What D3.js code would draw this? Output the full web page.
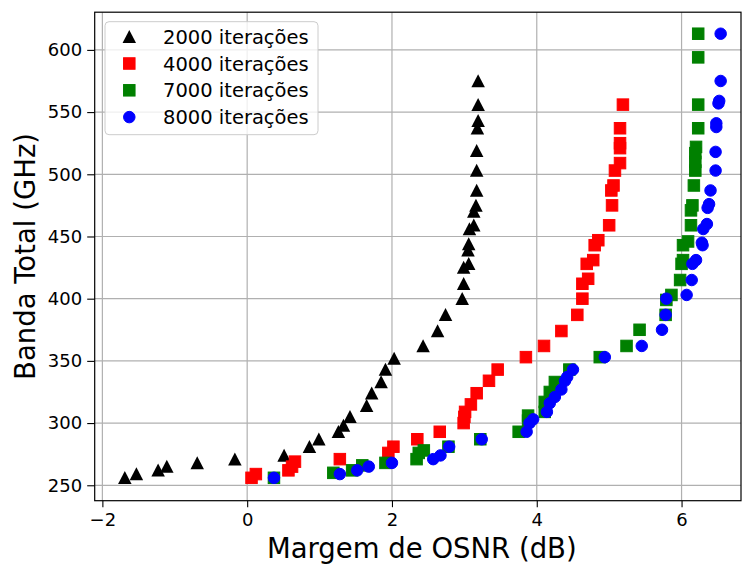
<!DOCTYPE html>
<html>
<head>
<meta charset="utf-8">
<script src="https://cdn.jsdelivr.net/npm/d3@7"></script>
<style>
  body { margin: 0; background: #fff; }
  svg { display: block; font-family: "DejaVu Sans", sans-serif; }
</style>
</head>
<body>
<svg id="chart" width="742" height="568"></svg>
<script>
// data: [margem OSNR (dB), banda total (GHz)]
const it2000 = [
  [-1.69,256],[-1.53,259],[-1.23,262],[-1.11,265],[-0.69,268],[-0.17,271],[0.51,274],
  [0.86,281],[0.99,287],[1.26,293],[1.33,298],[1.42,305],[1.65,314],[1.72,324],
  [1.85,333],[1.91,343],[2.03,352],[2.43,362],[2.63,374],[2.74,387],[2.97,400],
  [2.99,412],[2.99,425],[3.06,428],[3.05,439],[3.06,444],[3.07,456],[3.13,459],
  [3.13,470],[3.16,475],[3.17,487],[3.17,503],[3.17,519],[3.18,537],[3.19,543],
  [3.19,556],[3.19,575]
];
const it4000 = [
  [0.06,256],[0.12,259],[0.57,262],[0.62,265],[0.66,269],[1.28,271],[1.95,276],
  [2.02,281],[2.35,287],[2.66,293],[2.99,300],[3.00,305],[3.01,309],[3.09,315],
  [3.17,324],[3.34,334],[3.46,343],[3.85,353],[4.10,362],[4.34,374],[4.56,387],
  [4.63,400],[4.63,412],[4.71,416],[4.69,428],[4.78,431],[4.80,443],[4.85,447],
  [5.00,459],[5.04,475],[5.03,487],[5.06,491],[5.08,503],[5.15,509],[5.15,521],
  [5.15,525],[5.15,537],[5.19,556]
];
const it7000 = [
  [0.37,256],[1.19,260],[1.45,262],[1.59,266],[1.91,268],[2.34,271],[2.37,276],
  [2.44,278],[2.78,281],[3.22,287],[3.75,293],[3.88,302],[3.88,306],[4.11,309],
  [4.11,317],[4.18,325],[4.25,333],[4.45,343],[4.87,353],[5.24,362],[5.42,375],
  [5.78,387],[5.79,399],[5.86,403],[5.98,415],[6.00,428],[6.02,431],[6.02,443],
  [6.09,446],[6.13,459],[6.13,471],[6.15,475],[6.17,491],[6.19,503],[6.19,510],
  [6.19,517],[6.20,522],[6.23,537],[6.23,556],[6.23,594],[6.23,613]
];
const it8000 = [
  [0.37,256],[1.28,259],[1.52,262],[1.68,265],[2.00,268],[2.57,271],[2.67,274],
  [2.79,281],[3.24,287],[3.86,293],[3.90,300],[3.95,303],[4.14,309],[4.18,316],
  [4.25,321],[4.34,327],[4.39,334],[4.42,337],[4.50,343],[4.94,353],[5.45,362],
  [5.73,375],[5.78,387],[5.79,400],[6.07,403],[6.14,415],[6.15,428],[6.20,431],
  [6.29,443],[6.28,445],[6.30,456],[6.35,460],[6.36,473],[6.38,476],[6.40,487],
  [6.47,503],[6.47,518],[6.48,538],[6.48,541],[6.51,557],[6.52,559],[6.54,575],
  [6.54,613]
];
const labels = ['2000 iterações', '4000 iterações', '7000 iterações', '8000 iterações'];
const colors = ['#000000', '#ff0000', '#008000', '#0000ff'];
const shapes = ['tri', 'sq', 'sq', 'circ'];
const xTicks = [-2, 0, 2, 4, 6];
const yTicks = [250, 300, 350, 400, 450, 500, 550, 600];

const series = [it2000, it4000, it7000, it8000];

const svg = d3.select('#chart');
const plot = {left: 94.7, right: 741, top: 12.2, bottom: 500.7};

const x = d3.scaleLinear().domain([-2.106, 6.821]).range([plot.left, plot.right]);
const y = d3.scaleLinear().domain([237.6, 630.3]).range([plot.bottom, plot.top]);

// grid
svg.append('g').selectAll('line').data(xTicks).join('line')
  .attr('x1', d => x(d)).attr('x2', d => x(d))
  .attr('y1', plot.top).attr('y2', plot.bottom)
  .attr('stroke', '#b0b0b0').attr('stroke-width', 1.2);
svg.append('g').selectAll('line').data(yTicks).join('line')
  .attr('x1', plot.left).attr('x2', plot.right)
  .attr('y1', d => y(d)).attr('y2', d => y(d))
  .attr('stroke', '#b0b0b0').attr('stroke-width', 1.2);

// markers
function drawMarker(g, shape, color, size) {
  const h = size / 2;
  if (shape === 'tri') {
    g.append('path').attr('d', `M0,${-h - 1}L${h + 1},${h + 0.5}L${-h - 1},${h + 0.5}Z`)
      .attr('fill', color);
  } else if (shape === 'sq') {
    g.append('rect').attr('x', -h).attr('y', -h).attr('width', size).attr('height', size)
      .attr('fill', color).attr('stroke', color).attr('stroke-width', 1);
  } else {
    g.append('circle').attr('r', h).attr('fill', color)
      .attr('stroke', color).attr('stroke-width', 1);
  }
}

svg.append('clipPath').attr('id', 'clip')
  .append('rect').attr('x', plot.left).attr('y', plot.top)
  .attr('width', plot.right - plot.left).attr('height', plot.bottom - plot.top);

const marks = svg.append('g').attr('clip-path', 'url(#clip)');
series.forEach((s, i) => {
  marks.append('g').selectAll('g').data(s).join('g')
    .attr('transform', d => `translate(${x(d[0])},${y(d[1])})`)
    .each(function() { drawMarker(d3.select(this), shapes[i], colors[i], 11.5); });
});

// axes
const xAxis = svg.append('g').attr('transform', `translate(0,${plot.bottom})`)
  .call(d3.axisBottom(x).tickValues(xTicks).tickSize(6.5).tickPadding(6).tickSizeOuter(0));
const yAxis = svg.append('g').attr('transform', `translate(${plot.left},0)`)
  .call(d3.axisLeft(y).tickValues(yTicks).tickSize(7.5).tickPadding(5).tickSizeOuter(0));
[xAxis, yAxis].forEach(a => {
  a.select('.domain').remove();
  a.selectAll('line').attr('stroke', '#000').attr('stroke-width', 1.1);
  a.selectAll('text').attr('font-size', 18).attr('fill', '#000')
    .attr('font-family', '"DejaVu Sans", sans-serif');
});

// spines
svg.append('rect')
  .attr('x', plot.left).attr('y', plot.top)
  .attr('width', plot.right - plot.left).attr('height', plot.bottom - plot.top)
  .attr('fill', 'none').attr('stroke', '#000').attr('stroke-width', 1.2);

// axis titles
svg.append('text')
  .attr('x', (plot.left + plot.right) / 2 + 4).attr('y', 558)
  .attr('text-anchor', 'middle').attr('font-size', 27.5)
  .text('Margem de OSNR (dB)');
svg.append('text')
  .attr('transform', `translate(35,${(plot.top + plot.bottom) / 2}) rotate(-90)`)
  .attr('text-anchor', 'middle').attr('font-size', 27.5)
  .text('Banda Total (GHz)');

// legend
const legend = svg.append('g');
legend.append('rect')
  .attr('x', 105).attr('y', 21.7).attr('width', 213).attr('height', 113).attr('rx', 4)
  .attr('fill', '#fff').attr('fill-opacity', 0.8)
  .attr('stroke', '#cccccc').attr('stroke-width', 1);
labels.forEach((lab, i) => {
  const ry = 36.7 + i * 26.8;
  const g = legend.append('g').attr('transform', `translate(129.3,${ry})`);
  drawMarker(g, shapes[i], colors[i], 11.5);
  legend.append('text')
    .attr('x', 163).attr('y', ry + 7)
    .attr('font-size', 19.5).attr('fill', '#000')
    .text(lab);
});
</script>
</body>
</html>
